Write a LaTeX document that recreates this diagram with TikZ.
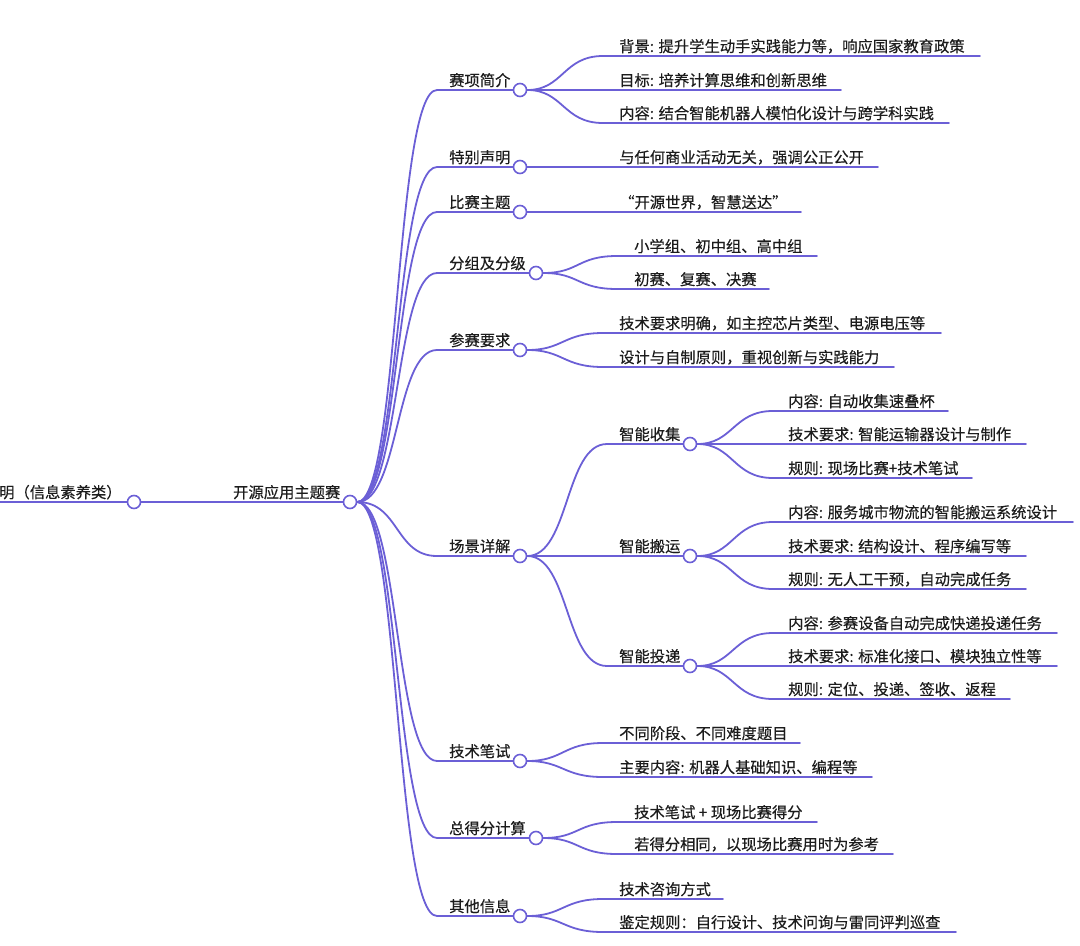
\documentclass[tikz,border=0pt]{standalone}
\usepackage{fontspec,xcolor,tikz}
\newfontfamily\cjk[FakeBold=0.35]{Noto Sans CJK SC}
\definecolor{ast}{HTML}{6B5FD6}
\definecolor{tinte}{HTML}{1C1C1C}
\newcommand{\txt}{\cjk\fontsize{15.3}{18}\selectfont}
\tikzset{branch/.style={draw=ast,line width=1.8pt,line cap=round},
  knob/.style={circle,draw=ast,fill=white,line width=1.6pt,minimum size=13pt,inner sep=0},
  lbl/.style={anchor=base west,inner sep=0,text=tinte,font=\txt}}

\begin{document}
\begin{tikzpicture}[x=1pt,y=-1pt]
\useasboundingbox (0,0) rectangle (1080,946);
% root and centre
\coordinate (in) at (0,502);
\node[knob] (root) at (134,502) {};\node[knob] (ctr) at (350,502) {};
\node[lbl] (root-t) at (-1,498) {明（信息素养类）};
\node[lbl] (ctr-t) at (233,498) {开源应用主题赛};
\draw[branch] (in) -- (root.west);\draw[branch] (root.east) -- (ctr.west);
% first level
\node[knob] (intro) at (520,90) {};\node[knob] (note) at (520,167) {};\node[knob] (theme) at (520,212) {};
\node[knob] (group) at (536,273) {};\node[knob] (req) at (520,350) {};\node[knob] (scene) at (520,556) {};
\node[knob] (exam) at (520,761) {};\node[knob] (score) at (536,838) {};\node[knob] (misc) at (520,916) {};
\node[lbl] (intro-t) at (449,86) {赛项简介};\coordinate (intro-u) at (437,90);
\node[lbl] (note-t) at (449,163) {特别声明};\coordinate (note-u) at (437,167);
\node[lbl] (theme-t) at (449,208) {比赛主题};\coordinate (theme-u) at (437,212);
\node[lbl] (group-t) at (449,269) {分组及分级};\coordinate (group-u) at (437,273);
\node[lbl] (req-t) at (449,346) {参赛要求};\coordinate (req-u) at (437,350);
\node[lbl] (scene-t) at (449,552) {场景详解};\coordinate (scene-u) at (437,556);
\node[lbl] (exam-t) at (449,757) {技术笔试};\coordinate (exam-u) at (437,761);
\node[lbl] (score-t) at (449,834) {总得分计算};\coordinate (score-u) at (437,838);
\node[lbl] (misc-t) at (449,912) {其他信息};\coordinate (misc-u) at (437,916);
\draw[branch] (ctr.east) .. controls +(42,0) and +(-42,0) .. (intro-u) -- (intro.west);
\draw[branch] (ctr.east) .. controls +(42,0) and +(-42,0) .. (note-u) -- (note.west);
\draw[branch] (ctr.east) .. controls +(42,0) and +(-42,0) .. (theme-u) -- (theme.west);
\draw[branch] (ctr.east) .. controls +(42,0) and +(-42,0) .. (group-u) -- (group.west);
\draw[branch] (ctr.east) .. controls +(42,0) and +(-42,0) .. (req-u) -- (req.west);
\draw[branch] (ctr.east) .. controls +(42,0) and +(-42,0) .. (scene-u) -- (scene.west);
\draw[branch] (ctr.east) .. controls +(42,0) and +(-42,0) .. (exam-u) -- (exam.west);
\draw[branch] (ctr.east) .. controls +(42,0) and +(-42,0) .. (score-u) -- (score.west);
\draw[branch] (ctr.east) .. controls +(42,0) and +(-42,0) .. (misc-u) -- (misc.west);
% 赛项简介
\coordinate (intro-1a) at (603,56);\coordinate (intro-1b) at (980,56);
\coordinate (intro-2a) at (603,90);\coordinate (intro-2b) at (841,90);
\coordinate (intro-3a) at (603,123);\coordinate (intro-3b) at (949,123);
\node[lbl] (intro-1) at (619,52) {背景: 提升学生动手实践能力等，响应国家教育政策};
\node[lbl] (intro-2) at (619,86) {目标: 培养计算思维和创新思维};
\node[lbl] (intro-3) at (619,119) {内容: 结合智能机器人模怕化设计与跨学科实践};
\draw[branch] (intro.east) .. controls +(36,0) and +(-40,0) .. (intro-1a) -- (intro-1b);
\draw[branch] (intro.east) -- (intro-2a) -- (intro-2b);
\draw[branch] (intro.east) .. controls +(36,0) and +(-40,0) .. (intro-3a) -- (intro-3b);
% 特别声明, 比赛主题
\coordinate (note-1b) at (878,167);\coordinate (theme-1b) at (801,212);
\node[lbl] (note-1) at (619,163) {与任何商业活动无关，强调公正公开};
\node[lbl] (theme-1) at (619,208) {“开源世界，智慧送达”};
\draw[branch] (note.east) -- (note-1b);\draw[branch] (theme.east) -- (theme-1b);
% 分组及分级
\coordinate (group-1a) at (617,256);\coordinate (group-1b) at (817,256);
\coordinate (group-2a) at (617,289);\coordinate (group-2b) at (769,289);
\node[lbl] (group-1) at (634,252) {小学组、初中组、高中组};
\node[lbl] (group-2) at (634,285) {初赛、复赛、决赛};
\draw[branch] (group.east) .. controls +(36,0) and +(-40,0) .. (group-1a) -- (group-1b);
\draw[branch] (group.east) .. controls +(36,0) and +(-40,0) .. (group-2a) -- (group-2b);
% 参赛要求
\coordinate (req-1a) at (603,333);\coordinate (req-1b) at (941,333);
\coordinate (req-2a) at (603,367);\coordinate (req-2b) at (894,367);
\node[lbl] (req-1) at (619,329) {技术要求明确，如主控芯片类型、电源电压等};
\node[lbl] (req-2) at (619,363) {设计与自制原则，重视创新与实践能力};
\draw[branch] (req.east) .. controls +(36,0) and +(-40,0) .. (req-1a) -- (req-1b);
\draw[branch] (req.east) .. controls +(36,0) and +(-40,0) .. (req-2a) -- (req-2b);
% 场景详解
\node[knob] (collect) at (690,444) {};\node[knob] (carry) at (690,556) {};\node[knob] (deliver) at (690,666) {};
\node[lbl] (collect-t) at (619,440) {智能收集};\coordinate (collect-u) at (607,444);
\node[lbl] (carry-t) at (619,552) {智能搬运};\coordinate (carry-u) at (607,556);
\node[lbl] (deliver-t) at (619,662) {智能投递};\coordinate (deliver-u) at (607,666);
\draw[branch] (scene.east) .. controls +(42,0) and +(-42,0) .. (collect-u) -- (collect.west);
\draw[branch] (scene.east) -- (carry-u) -- (carry.west);
\draw[branch] (scene.east) .. controls +(42,0) and +(-42,0) .. (deliver-u) -- (deliver.west);
\coordinate (collect-1a) at (773,411);\coordinate (collect-1b) at (948,411);
\coordinate (collect-2a) at (773,444);\coordinate (collect-2b) at (1026,444);
\coordinate (collect-3a) at (773,478);\coordinate (collect-3b) at (972,478);
\node[lbl] (collect-1) at (788,407) {内容: 自动收集速叠杯};
\node[lbl] (collect-2) at (788,440) {技术要求: 智能运输器设计与制作};
\node[lbl] (collect-3) at (788,474) {规则: 现场比赛+技术笔试};
\draw[branch] (collect.east) .. controls +(36,0) and +(-40,0) .. (collect-1a) -- (collect-1b);
\draw[branch] (collect.east) -- (collect-2a) -- (collect-2b);
\draw[branch] (collect.east) .. controls +(36,0) and +(-40,0) .. (collect-3a) -- (collect-3b);
\coordinate (carry-1a) at (773,522);\coordinate (carry-1b) at (1073,522);
\coordinate (carry-2a) at (773,556);\coordinate (carry-2b) at (1026,556);
\coordinate (carry-3a) at (773,589);\coordinate (carry-3b) at (1026,589);
\node[lbl] (carry-1) at (788,518) {内容: 服务城市物流的智能搬运系统设计};
\node[lbl] (carry-2) at (788,552) {技术要求: 结构设计、程序编写等};
\node[lbl] (carry-3) at (788,585) {规则: 无人工干预，自动完成任务};
\draw[branch] (carry.east) .. controls +(36,0) and +(-40,0) .. (carry-1a) -- (carry-1b);
\draw[branch] (carry.east) -- (carry-2a) -- (carry-2b);
\draw[branch] (carry.east) .. controls +(36,0) and +(-40,0) .. (carry-3a) -- (carry-3b);
\coordinate (deliver-1a) at (773,633);\coordinate (deliver-1b) at (1057,633);
\coordinate (deliver-2a) at (773,666);\coordinate (deliver-2b) at (1057,666);
\coordinate (deliver-3a) at (773,699);\coordinate (deliver-3b) at (1010,699);
\node[lbl] (deliver-1) at (788,629) {内容: 参赛设备自动完成快递投递任务};
\node[lbl] (deliver-2) at (788,662) {技术要求: 标准化接口、模块独立性等};
\node[lbl] (deliver-3) at (788,695) {规则: 定位、投递、签收、返程};
\draw[branch] (deliver.east) .. controls +(36,0) and +(-40,0) .. (deliver-1a) -- (deliver-1b);
\draw[branch] (deliver.east) -- (deliver-2a) -- (deliver-2b);
\draw[branch] (deliver.east) .. controls +(36,0) and +(-40,0) .. (deliver-3a) -- (deliver-3b);
% 技术笔试
\coordinate (exam-1a) at (603,743);\coordinate (exam-1b) at (800,743);
\coordinate (exam-2a) at (603,777);\coordinate (exam-2b) at (872,777);
\node[lbl] (exam-1) at (619,739) {不同阶段、不同难度题目};
\node[lbl] (exam-2) at (619,773) {主要内容: 机器人基础知识、编程等};
\draw[branch] (exam.east) .. controls +(36,0) and +(-40,0) .. (exam-1a) -- (exam-1b);
\draw[branch] (exam.east) .. controls +(36,0) and +(-40,0) .. (exam-2a) -- (exam-2b);
% 总得分计算
\coordinate (score-1a) at (617,822);\coordinate (score-1b) at (817,822);
\coordinate (score-2a) at (617,854);\coordinate (score-2b) at (893,854);
\node[lbl] (score-1) at (634,818) {技术笔试 + 现场比赛得分};
\node[lbl] (score-2) at (634,850) {若得分相同，以现场比赛用时为参考};
\draw[branch] (score.east) .. controls +(36,0) and +(-40,0) .. (score-1a) -- (score-1b);
\draw[branch] (score.east) .. controls +(36,0) and +(-40,0) .. (score-2a) -- (score-2b);
% 其他信息
\coordinate (misc-1a) at (603,899);\coordinate (misc-1b) at (723,899);
\coordinate (misc-2a) at (603,932);\coordinate (misc-2b) at (956,932);
\node[lbl] (misc-1) at (619,895) {技术咨询方式};
\node[lbl] (misc-2) at (619,928) {鉴定规则：自行设计、技术问询与雷同评判巡查};
\draw[branch] (misc.east) .. controls +(36,0) and +(-40,0) .. (misc-1a) -- (misc-1b);
\draw[branch] (misc.east) .. controls +(36,0) and +(-40,0) .. (misc-2a) -- (misc-2b);
\end{tikzpicture}
\end{document}
